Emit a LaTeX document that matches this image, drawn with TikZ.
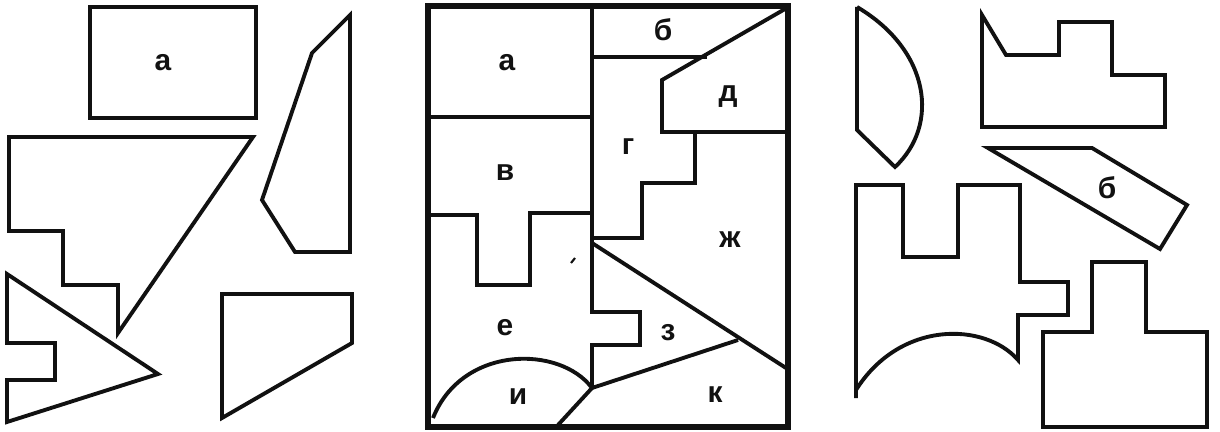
\documentclass[tikz,border=0pt]{standalone}
\usepackage{fontspec}
\setmainfont{Liberation Sans}
\usepackage{tikz}
\definecolor{cInk}{HTML}{111111}
\tikzset{
  piece/.style={draw=cInk, line width=2.2pt, line join=miter},
  frame/.style={draw=cInk, line width=3.8pt},
  lbl/.style={font=\fontsize{17}{20}\selectfont\bfseries, text=cInk, inner sep=0pt}
}
\begin{document}
\begin{tikzpicture}[x=0.02cm, y=-0.02cm]
\useasboundingbox (0,0) rectangle (1220,432);
% left: loose pieces
\draw[piece] (90,7) rectangle (256,118);
\node[lbl] (la) at (163,63) {а};
\draw[piece] (9,137) -- (253,137) -- (118,333) -- (118,285) -- (63,285) -- (63,231) -- (9,231) -- cycle;
\draw[piece] (350,15) -- (350,252) -- (295,252) -- (262,200) -- (312,53) -- cycle;
\draw[piece] (7,274) -- (158,374) -- (7,422) -- (7,380) -- (55,380) -- (55,343) -- (7,343) -- cycle;
\draw[piece] (222,294) -- (352,294) -- (352,343) -- (222,418) -- cycle;
% middle: the assembled rectangle
\draw[frame] (428,6) rectangle (788,427);
\draw[piece] (592,6) -- (592,312) -- (640,312) -- (640,345) -- (592,345) -- (592,388);
\draw[piece] (428,117) -- (592,117);
\draw[piece] (428,215) -- (477,215) -- (477,285) -- (530,285) -- (530,213) -- (592,213);
\draw[piece] (592,57) -- (707,57);
\draw[piece] (785,9) -- (662,80) -- (662,132) -- (788,132);
\draw[piece] (662,132) -- (695,132) -- (695,183) -- (642,183) -- (642,238) -- (592,238);
\draw[piece] (592,243) -- (786,368);
\draw[piece] (592,388) -- (738,340);
\draw[piece] (433,418) .. controls (462,345) and (560,345) .. (592,388) -- (558,425);
\draw[cInk, line width=1.2pt] (571,263) -- (575,258);
\node[lbl] (ma) at (507,63) {а};
\node[lbl] (mb) at (663,30) {б};
\node[lbl] (mv) at (505,173) {в};
\node[lbl] (mg) at (628,147) {г};
\node[lbl] (md) at (728,97) {д};
\node[lbl] (mzh) at (730,240) {ж};
\node[lbl] (me) at (505,328) {е};
\node[lbl] (mz) at (668,333) {з};
\node[lbl] (mi) at (518,397) {и};
\node[lbl] (mk) at (715,395) {к};
% right: loose pieces
\draw[piece] (857,7) -- (857,130) -- (895,167) .. controls (940,125) and (930,50) .. (857,7);
\draw[piece] (982,15) -- (982,127) -- (1165,127) -- (1165,75) -- (1112,75) -- (1112,22) -- (1059,22) -- (1059,55) -- (1006,55) -- cycle;
\draw[piece] (988,148) -- (1092,148) -- (1187,205) -- (1160,249) -- cycle;
\node[lbl] (rb) at (1107,188) {б};
\draw[piece] (856,398) -- (856,185) -- (903,185) -- (903,257) -- (958,257) -- (958,185) -- (1020,185) -- (1020,282) -- (1068,282) -- (1068,315) -- (1018,315) -- (1018,360) .. controls (985,322) and (900,320) .. (856,390);
\draw[piece] (1043,332) -- (1043,427) -- (1207,427) -- (1207,332) -- (1146,332) -- (1146,262) -- (1092,262) -- (1092,332) -- cycle;
\end{tikzpicture}
\end{document}
